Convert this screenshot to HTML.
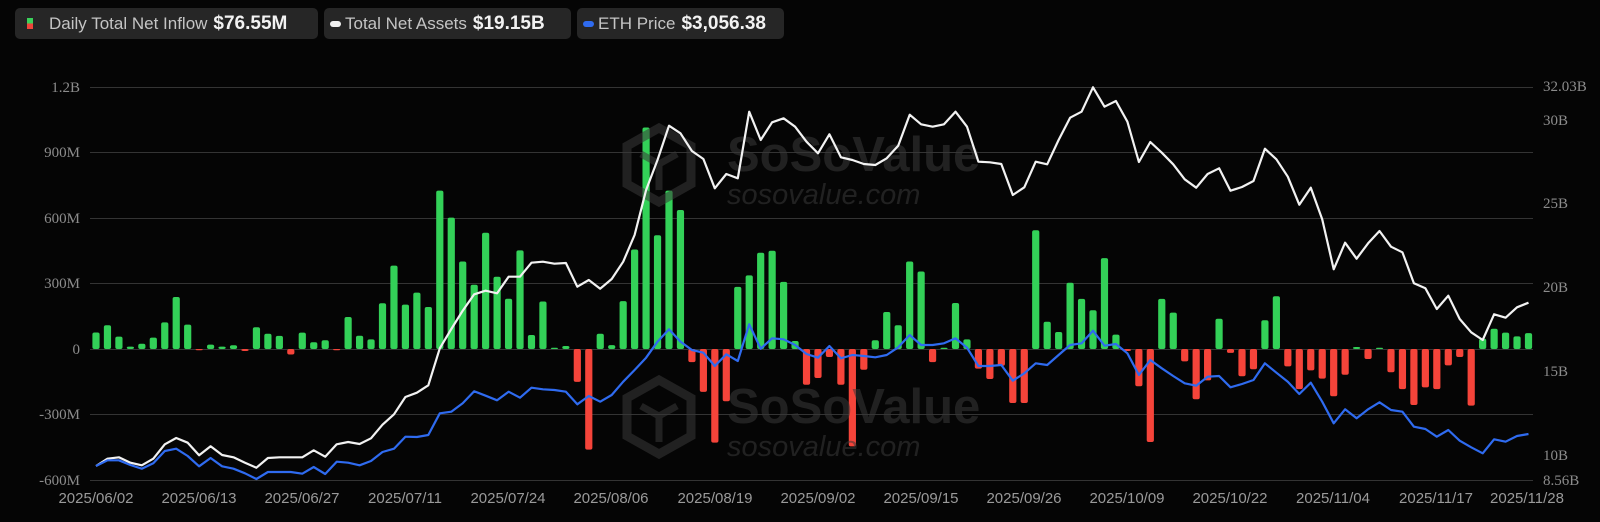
<!DOCTYPE html>
<html><head><meta charset="utf-8">
<style>
html,body{margin:0;padding:0;background:#050505;}
body{width:1600px;height:522px;position:relative;overflow:hidden;font-family:"Liberation Sans",sans-serif;}
.leg{position:absolute;top:8px;height:31px;background:#262626;border-radius:5px;display:flex;align-items:center;box-sizing:border-box;padding:0 8px;white-space:nowrap;}
.leg .l{color:#c4c4c4;font-size:17px;}
.leg .v{color:#f2f2f2;font-size:19px;font-weight:bold;margin-left:6px;}
.pill{display:inline-block;width:11px;height:6px;border-radius:3px;margin-right:4px;}
</style></head><body>
<div class="leg" style="left:15px;width:303px;">
 <span style="display:inline-block;width:6px;height:11px;margin:0 16px 0 4px;background:linear-gradient(#3ad15a 50%,#f0443a 50%);"></span>
 <span class="l">Daily Total Net Inflow</span><span class="v">$76.55M</span></div>
<div class="leg" style="left:324px;width:247px;padding-left:6px;">
 <span class="pill" style="background:#f0f0f0"></span><span class="l">Total Net Assets</span><span class="v">$19.15B</span></div>
<div class="leg" style="left:577px;width:207px;padding-left:6px;">
 <span class="pill" style="background:#2f6bf0"></span><span class="l">ETH Price</span><span class="v">$3,056.38</span></div>

<svg id="c" width="1600" height="522" style="position:absolute;left:0;top:0" xmlns="http://www.w3.org/2000/svg">
<g stroke="#343434" stroke-width="1">
<line x1="90" x2="1533" y1="87.5" y2="87.5"/><line x1="90" x2="1533" y1="152.5" y2="152.5"/>
<line x1="90" x2="1533" y1="218.5" y2="218.5"/><line x1="90" x2="1533" y1="283.5" y2="283.5"/>
<line x1="90" x2="1533" y1="349.5" y2="349.5"/><line x1="90" x2="1533" y1="414.5" y2="414.5"/>
<line x1="90" x2="1533" y1="480.5" y2="480.5"/>
</g>
<g font-family="Liberation Serif,serif" font-size="15" fill="#8c8c8c" text-anchor="end">
<text x="80" y="92">1.2B</text><text x="80" y="157">900M</text><text x="80" y="223">600M</text>
<text x="80" y="288">300M</text><text x="80" y="354">0</text><text x="80" y="419">-300M</text><text x="80" y="485">-600M</text>
</g>
<g font-family="Liberation Serif,serif" font-size="15" fill="#8c8c8c">
<text x="1543" y="91">32.03B</text><text x="1543" y="125">30B</text><text x="1543" y="208">25B</text>
<text x="1543" y="292">20B</text><text x="1543" y="376">15B</text><text x="1543" y="460">10B</text><text x="1543" y="485">8.56B</text>
</g>
<g font-family="Liberation Sans,sans-serif" font-size="15" fill="#9a9a9a" text-anchor="middle">
<text x="96" y="503">2025/06/02</text><text x="199" y="503">2025/06/13</text><text x="302" y="503">2025/06/27</text>
<text x="405" y="503">2025/07/11</text><text x="508" y="503">2025/07/24</text><text x="611" y="503">2025/08/06</text>
<text x="715" y="503">2025/08/19</text><text x="818" y="503">2025/09/02</text><text x="921" y="503">2025/09/15</text>
<text x="1024" y="503">2025/09/26</text><text x="1127" y="503">2025/10/09</text><text x="1230" y="503">2025/10/22</text>
<text x="1333" y="503">2025/11/04</text><text x="1436" y="503">2025/11/17</text><text x="1527" y="503">2025/11/28</text>
</g>
<g id="bars"></g>
<g opacity="0.55">
 <g transform="translate(627,128)">
  <polygon points="32,0 64,18 64,56 32,74 0,56 0,18" fill="none" stroke="#3a3a3a" stroke-width="9"/>
  <polyline points="14,26 32,36 50,26 M32,36" fill="none" stroke="#3a3a3a" stroke-width="7"/>
  <line x1="32" y1="36" x2="32" y2="62" stroke="#3a3a3a" stroke-width="7"/>
 </g>
 <text x="727" y="171" font-family="Liberation Sans,sans-serif" font-weight="bold" font-size="49" fill="#3a3a3a">SoSoValue</text>
 <text x="727" y="204" font-family="Liberation Sans,sans-serif" font-style="italic" font-size="29" fill="#3a3a3a">sosovalue.com</text>
 <g transform="translate(627,380)">
  <polygon points="32,0 64,18 64,56 32,74 0,56 0,18" fill="none" stroke="#3a3a3a" stroke-width="9"/>
  <polyline points="14,26 32,36 50,26" fill="none" stroke="#3a3a3a" stroke-width="7"/>
  <line x1="32" y1="36" x2="32" y2="62" stroke="#3a3a3a" stroke-width="7"/>
 </g>
 <text x="727" y="423" font-family="Liberation Sans,sans-serif" font-weight="bold" font-size="49" fill="#3a3a3a">SoSoValue</text>
 <text x="727" y="456" font-family="Liberation Sans,sans-serif" font-style="italic" font-size="29" fill="#3a3a3a">sosovalue.com</text>
</g>
<polyline id="wl" fill="none" stroke="#f2f2f2" stroke-width="2.2" stroke-linejoin="round"/>
<polyline id="bl" fill="none" stroke="#2f6bf0" stroke-width="2.2" stroke-linejoin="round"/>
</svg>
<script>
var v=[76,109,57,11,24,52,122,239,112,-2,20,11,17,-9,100,70,60,-25,75,31,40,-1,147,61,44,210,383,204,259,193,727,603,402,295,534,332,231,453,64,218,5,14,-151,-462,70,18,220,457,1017,522,727,638,-60,-197,-430,-240,285,338,442,451,308,37,-164,-133,-37,-164,-447,-95,40,170,109,402,356,-60,0,211,44,-90,-138,-77,-248,-248,545,125,78,304,230,178,417,66,-9,-171,-427,230,167,-57,-231,-144,139,-18,-125,-93,132,242,-80,-184,-98,-136,-217,-118,9,-46,0,-107,-184,-257,-176,-184,-75,-37,-260,47,93,75,58,73];
var w=[466,458.7,457.3,462.7,465.3,458.7,444.3,438,442.7,455.3,446.3,455,457.3,462.7,467.7,458,457.3,457.3,457.3,450.3,456.7,444.3,442,444,438.3,424.7,414.3,397,392.7,385.3,348.3,329,310.7,294.3,290.7,293.3,276.7,276.7,262.7,261.7,263.7,263,286.7,280,288.7,279,261.7,235,190,160,125.7,133.3,151,159,188.3,174,178.3,111.7,140,122.3,118.3,126.7,141.7,153.3,134.3,157.3,160,164,165,158.3,145.7,114.7,124.3,126.7,124.3,111.7,126.7,161.7,162.3,164,195,187.3,161.7,164.3,140,117.7,111.7,87.3,106.7,101,121.7,162,142,152.7,164.3,179.3,187.7,174,168.3,190.7,187,181,148.7,159.3,176.7,204.7,187.7,219.3,269.3,242.7,258.7,243.3,231,246.7,252.3,283.3,288.3,309,295.7,319,332.3,340,314.3,317.7,307.3,302.7];
var b=[466,460.3,460.3,465,468.7,463.3,451,448.7,456,466.3,458,466.3,468.7,473.3,479,472,472,472,473.7,467,474,461.7,462.7,465.3,461,452,448.7,436.7,437,435,413.3,411.7,403.3,391.3,395.7,400.3,391.7,397.7,387.7,389.3,390,391.7,404.3,396,401.7,395,381.7,370,357.7,341.7,329.3,341.7,350,352.7,366,354.3,361,324.3,348.7,338.3,339.3,345,354,357.7,346,358.3,355,356,357.3,355,347.3,335,345,345,343.3,338.3,347.7,366,366,365,380.7,373.3,363.3,365,355,345,343.3,330.7,345.7,344,353.3,375,360,368.3,376,383.3,385.7,376.7,376,387.3,384,380,363.3,372.7,381.7,394,382.7,401.7,423.3,409.3,418.3,409.3,402.3,410,411.7,426.7,429,436.7,430,440.7,447.3,453.3,439.3,441.7,436,434];
var X=function(i){return 96+i*11.46;};
var g=document.getElementById('bars'),s='';
for(var i=0;i<v.length;i++){var h=Math.abs(v[i])*0.2178;if(h<1.2)h=1.2;var x=X(i)-3.6;
 if(v[i]>=0){s+='<rect x="'+x+'" y="'+(349-h)+'" width="7.2" height="'+h+'" rx="2" fill="#33d158"/>';}
 else{s+='<rect x="'+x+'" y="349" width="7.2" height="'+h+'" rx="2" fill="#f5443a"/>';}}
g.innerHTML=s;
function P(a){return a.map(function(y,i){return X(i).toFixed(1)+','+y;}).join(' ');}
document.getElementById('wl').setAttribute('points',P(w));
document.getElementById('bl').setAttribute('points',P(b));
</script>
</body></html>
